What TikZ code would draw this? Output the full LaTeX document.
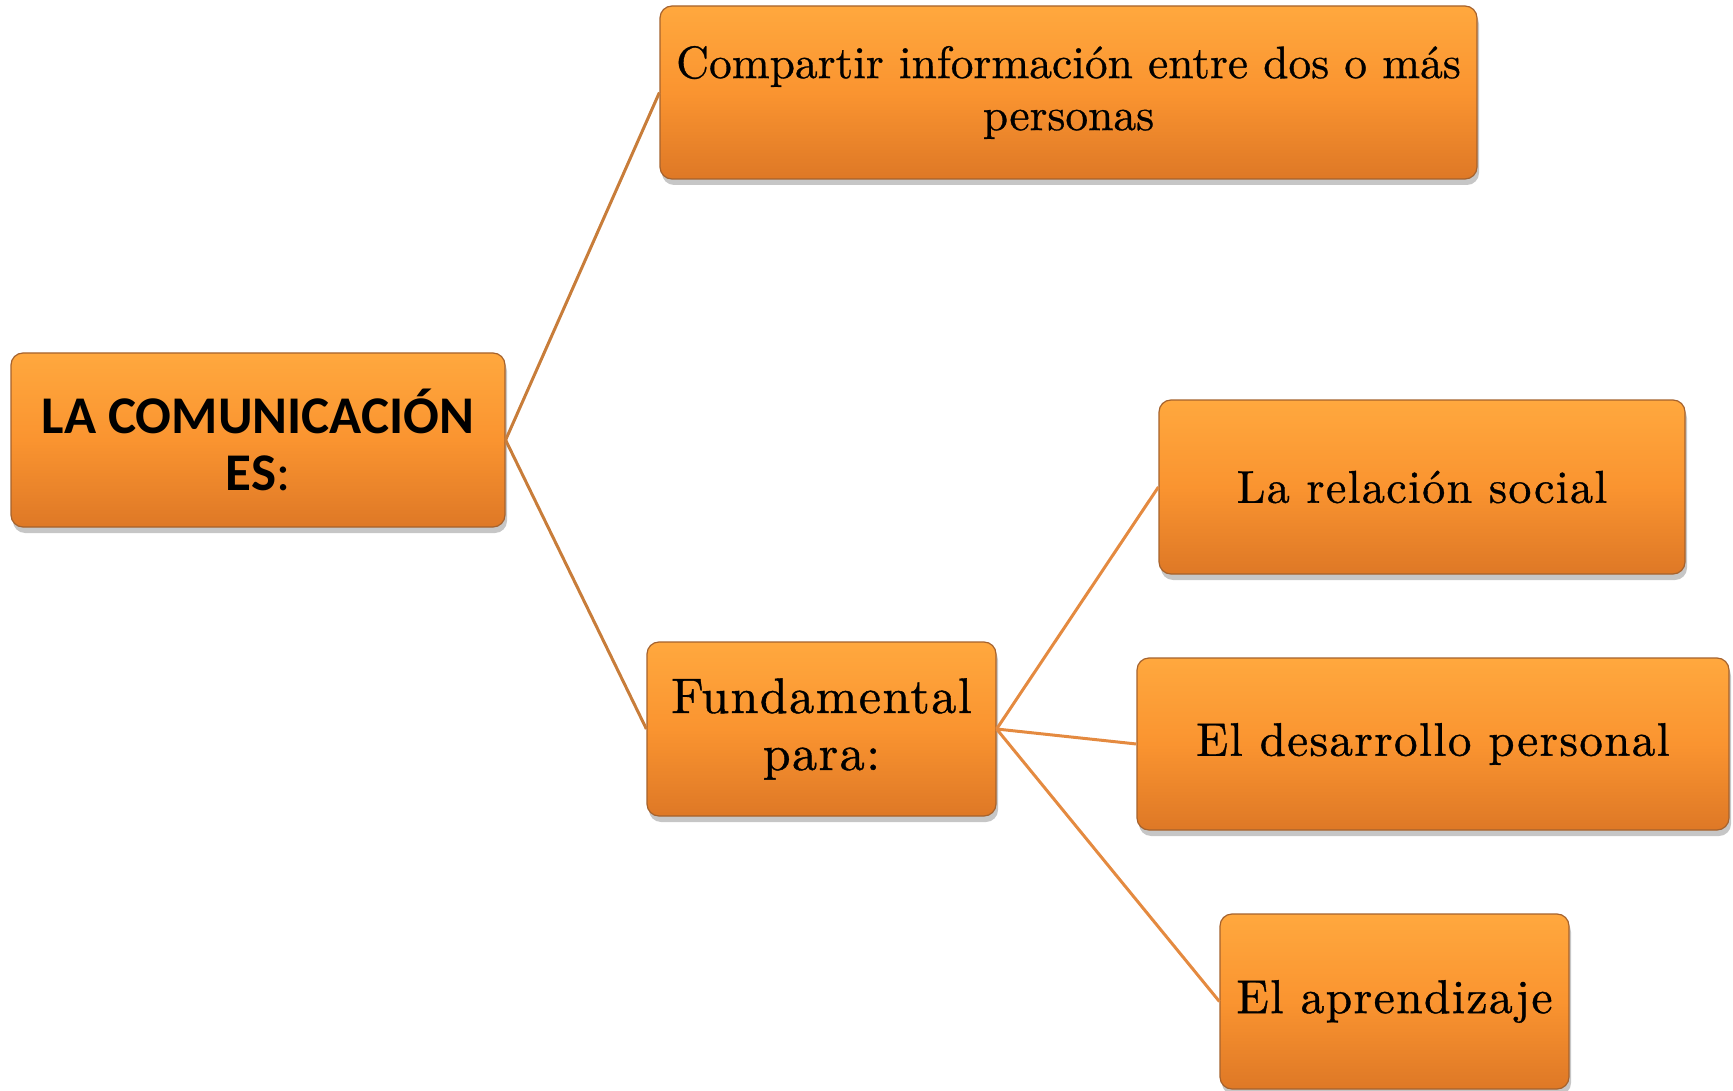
\documentclass[tikz,border=0pt]{standalone}
\usepackage{fontspec}
\usetikzlibrary{shadows}
\newfontfamily\rootfont{Carlito}
\newfontfamily\serifsp{lmroman10-regular.otf}[LetterSpace=3, FakeBold=0.8]
\newfontfamily\serifn{lmroman10-regular.otf}[FakeBold=0.6]
\definecolor{boxtop}{RGB}{255,168,62}
\definecolor{boxmid}{RGB}{250,148,48}
\definecolor{boxbot}{RGB}{222,120,38}
\definecolor{boxedge}{RGB}{165,98,45}
\definecolor{lineA}{RGB}{200,125,58}
\definecolor{lineB}{RGB}{228,138,64}
\tikzset{
  boxnode/.style={rounded corners=12pt, draw=boxedge, line width=1.2pt,
    top color=boxtop, bottom color=boxbot, middle color=boxmid,
    drop shadow={shadow xshift=2pt, shadow yshift=-6pt, opacity=0.45},
    align=center, inner sep=0pt, text=black},
  linkA/.style={draw=lineA, line width=3pt},
  linkB/.style={draw=lineB, line width=3pt}
}
\begin{document}
\begin{tikzpicture}[x=1pt,y=-1pt]
\useasboundingbox (0,0) rectangle (1733,1091);
\node[boxnode, minimum width=494pt, minimum height=174pt,
  font={\rootfont\fontsize{53}{57}\selectfont}] (root) at (258,440)
  {\textbf{LA COMUNICACIÓN}\\\textbf{ES}:};
\node[boxnode, minimum width=817pt, minimum height=173pt,
  font={\serifn\fontsize{45.5}{52}\selectfont}] (top) at (1068.5,92.5)
  {Compartir información entre dos o más\\personas};
\node[boxnode, minimum width=349pt, minimum height=174pt,
  font={\serifsp\fontsize{50}{57}\selectfont}] (fund) at (821.5,729)
  {Fundamental\\para:};
\node[boxnode, minimum width=526pt, minimum height=174pt,
  font={\serifsp\fontsize{46}{52}\selectfont}] (rel) at (1422,487)
  {La relación social};
\node[boxnode, minimum width=592pt, minimum height=172pt,
  font={\serifsp\fontsize{47}{52}\selectfont}] (des) at (1433,744)
  {El desarrollo personal};
\node[boxnode, minimum width=349pt, minimum height=175pt,
  font={\serifsp\fontsize{47.5}{52}\selectfont}] (apr) at (1394.5,1001.5)
  {El aprendizaje};
\draw[linkA] (root.east) -- (top.west);
\draw[linkA] (root.east) -- (fund.west);
\draw[linkB] (fund.east) -- (rel.west);
\draw[linkB] (fund.east) -- (des.west);
\draw[linkB] (fund.east) -- (apr.west);
\end{tikzpicture}
\end{document}
